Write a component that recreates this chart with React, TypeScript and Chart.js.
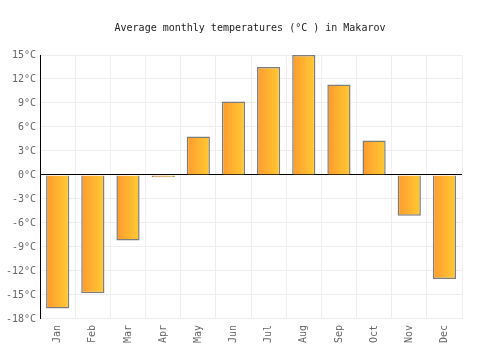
import React, { useEffect, useRef } from "react";
import { Chart, registerables } from "chart.js";
Chart.register(...registerables);

const months = ["Jan","Feb","Mar","Apr","May","Jun","Jul","Aug","Sep","Oct","Nov","Dec"];
const temps = [-16.7, -14.8, -8.2, -0.3, 4.8, 9.2, 13.5, 15.0, 11.3, 4.3, -5.1, -13.0];
const titleText = "Average monthly temperatures (°C ) in Makarov";

export default function App() {
  const ref = useRef<HTMLCanvasElement>(null);
  useEffect(() => {
    document.body.style.margin = "0";
    const font = "'DejaVu Sans Mono', monospace";
    const barPct = 0.66;
    const titlePlugin = {
      id: "centeredTitle",
      afterDraw(chart: any) {
        const ctx = chart.ctx;
        ctx.save();
        ctx.font = `10px ${font}`;
        ctx.fillStyle = "#222";
        ctx.textAlign = "center";
        ctx.textBaseline = "middle";
        ctx.fillText(titleText, chart.width / 2, 28);
        ctx.restore();
      },
    };
    const chart = new Chart(ref.current!, {
      type: "bar",
      data: {
        labels: months,
        datasets: [{
          data: temps,
          backgroundColor: (c: any) => {
            const chart = c.chart;
            const x = chart.scales && chart.scales.x;
            if (!x || c.dataIndex === undefined) return "#ffa830";
            const center = x.getPixelForValue(c.dataIndex);
            const w = (x.width / months.length) * barPct;
            if (!isFinite(center) || !isFinite(w) || w <= 0) return "#ffa830";
            const g = chart.ctx.createLinearGradient(center - w / 2, 0, center + w / 2, 0);
            g.addColorStop(0, "#ff9a2e");
            g.addColorStop(1, "#ffcb33");
            return g;
          },
          borderColor: "#7d7d7d",
          borderWidth: 1.5,
          categoryPercentage: 1,
          barPercentage: barPct,
        }],
      },
      options: {
        animation: false,
        responsive: false,
        layout: { padding: { left: 2, right: 38, top: 55, bottom: 1 } },
        plugins: {
          legend: { display: false },
          tooltip: { enabled: false },
          title: { display: false },
        },
        scales: {
          x: {
            grid: { color: "#eeeeee", offset: true, drawTicks: false },
            border: { display: false },
            ticks: {
              color: "#666",
              font: { family: font, size: 10 },
              maxRotation: 90,
              minRotation: 90,
              padding: 6,
            },
          },
          y: {
            min: -18,
            max: 15,
            grid: {
              color: (c: any) => (c.tick && c.tick.value === 0 ? "#000" : "#eeeeee"),
              drawTicks: false,
            },
            border: { color: "#000" },
            ticks: {
              stepSize: 3,
              color: "#666",
              font: { family: font, size: 10 },
              padding: 4,
              callback: (v: any) => v + "°C",
            },
          },
        },
      },
      plugins: [titlePlugin],
    } as any);
    return () => chart.destroy();
  }, []);
  return <canvas ref={ref} width={500} height={350} style={{ display: "block" }} />;
}
